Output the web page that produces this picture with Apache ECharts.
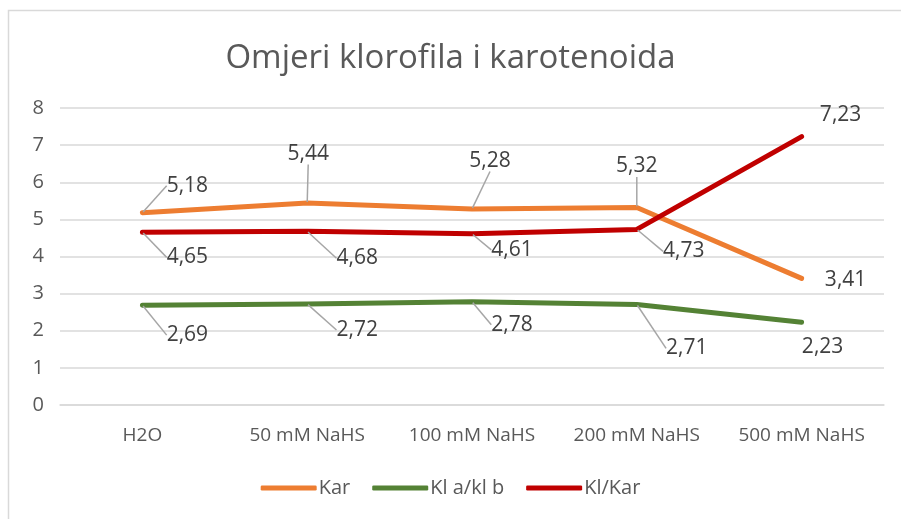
<!DOCTYPE html>
<html>
<head>
<meta charset="utf-8">
<script src="https://cdn.jsdelivr.net/npm/echarts@6/dist/echarts.min.js"></script>
<style>
  html, body { margin: 0; padding: 0; background: #fff; }
  #chart { width: 901px; height: 519px; }
</style>
</head>
<body>
<div id="chart"></div>
<script>
// podaci
const categories = ['H2O', '50 mM NaHS', '100 mM NaHS', '200 mM NaHS', '500 mM NaHS']
const kar = [5.18, 5.44, 5.28, 5.32, 3.41]
const klAB = [2.69, 2.72, 2.78, 2.71, 2.23]
const klKar = [4.65, 4.68, 4.61, 4.73, 7.23]
const yTicks = [0, 1, 2, 3, 4, 5, 6, 7, 8]

// pomaci oznaka (dx, dy) od tocke, i da li ima liniju
const karOffsets = [[45, -27, 1], [1, -49, 1], [18, -48, 1], [0, -41, 1], [44, 2, 0]]
const klABOffsets = [[45, 30, 1], [50, 26, 1], [40, 23, 1], [50, 44, 1], [21, 25, 0]]
const klKarOffsets = [[45, 25, 1], [50, 27, 1], [40, 16, 1], [47, 22, 1], [39, -22, 0]]

const font = '"Open Sans", "Liberation Sans", sans-serif'
const textColor = '#595959'

function makeSeries (name, values, color, offsets) {
  return {
    name: name,
    type: 'line',
    data: values.map((v, i) => ({
      value: v,
      labelLine: { show: offsets[i][2] === 1 }
    })),
    symbol: 'circle',
    symbolSize: 2,
    itemStyle: { color: color },
    lineStyle: { color: color, width: 5, cap: 'round', join: 'round' },
    label: {
      show: true,
      position: 'inside',
      formatter: p => String(p.value.toFixed(2)).replace('.', ','),
      fontFamily: font,
      fontSize: 21,
      color: '#404040'
    },
    labelLine: {
      show: true,
      lineStyle: { color: '#a6a6a6', width: 1.5 }
    },
    labelLayout: p => ({ dx: offsets[p.dataIndex][0], dy: offsets[p.dataIndex][1] }),
    emphasis: { disabled: true },
    animation: false
  }
}

const chart = echarts.init(document.getElementById('chart'))
chart.setOption({
  backgroundColor: '#fff',
  textStyle: { fontFamily: font },
  title: {
    text: 'Omjeri klorofila i karotenoida',
    left: 'center',
    top: 37,
    textStyle: { fontFamily: font, fontSize: 33, fontWeight: 'normal', color: textColor }
  },
  graphic: [{
    type: 'rect',
    shape: { x: 8.5, y: 10.5, width: 920, height: 540 },
    style: { fill: 'none', stroke: '#d9d9d9', lineWidth: 1.5 },
    silent: true
  }],
  legend: {
    bottom: 16,
    left: 'center',
    icon: 'roundRect',
    itemWidth: 56,
    itemHeight: 5,
    itemGap: 22,
    textStyle: { fontFamily: font, fontSize: 20, color: textColor, padding: [0, 0, 0, -3] },
    data: ['Kar', 'Kl a/kl b', 'Kl/Kar']
  },
  grid: { left: 60, right: 17, top: 108, bottom: 114 },
  xAxis: {
    type: 'category',
    data: categories,
    boundaryGap: true,
    axisLine: { show: true, lineStyle: { color: '#d9d9d9', width: 1.5 } },
    axisTick: { show: false },
    axisLabel: { interval: 0, fontFamily: font, fontSize: 19, color: textColor, margin: 21 }
  },
  yAxis: {
    type: 'value',
    min: yTicks[0],
    max: yTicks[yTicks.length - 1],
    interval: 1,
    axisLine: { show: false },
    axisTick: { show: false },
    splitLine: { lineStyle: { color: '#d9d9d9', width: 1.5 } },
    axisLabel: { fontFamily: font, fontSize: 20, color: textColor, margin: 16 }
  },
  series: [
    makeSeries('Kar', kar, '#ED7D31', karOffsets),
    makeSeries('Kl a/kl b', klAB, '#548235', klABOffsets),
    makeSeries('Kl/Kar', klKar, '#C00000', klKarOffsets)
  ]
})
</script>
</body>
</html>
